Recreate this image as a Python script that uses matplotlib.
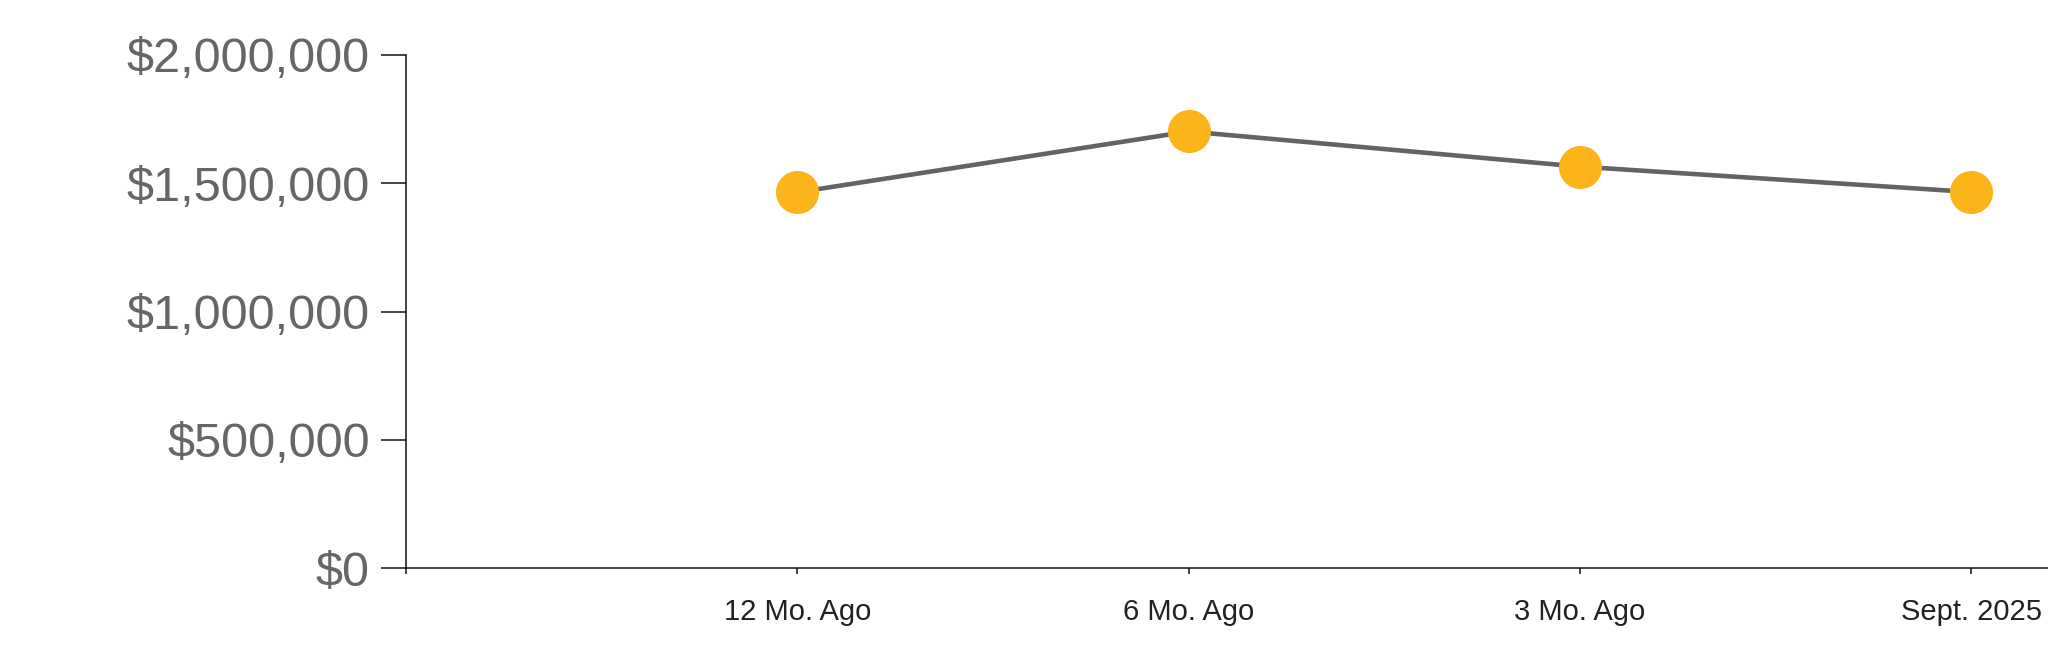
import matplotlib
matplotlib.use("Agg")
import matplotlib.pyplot as plt
from matplotlib.ticker import FuncFormatter

plt.rcParams["font.family"] = ["Liberation Sans", "DejaVu Sans"]

# data
periods = ["12 Mo. Ago", "6 Mo. Ago", "3 Mo. Ago", "Sept. 2025"]
values = [1465000, 1702000, 1565000, 1466000]
y_ticks = [0, 500000, 1000000, 1500000, 2000000]

LINE = "#636363"
DOT = "#FBB41A"

fig = plt.figure(figsize=(20.48, 6.63), dpi=100)
ax = fig.add_axes([406 / 2048, 1 - 568.3 / 663, 1 - 406 / 2048, (568.3 - 55) / 663])

x = list(range(1, len(periods) + 1))
ax.plot(x, values, color=LINE, lw=3.3, zorder=2, solid_capstyle="butt")
ax.plot(x, values, "o", color=DOT, ms=31, mec="none", zorder=3)

ax.set_xlim(0, 4.196)
ax.set_ylim(0, 2000000)
ax.set_yticks(y_ticks)
ax.yaxis.set_major_formatter(FuncFormatter(lambda v, _: f"${v:,.0f}"))
ax.set_xticks([0] + x)
ax.set_xticklabels([""] + periods)

for side in ("top", "right"):
    ax.spines[side].set_visible(False)
for side in ("left", "bottom"):
    ax.spines[side].set_linewidth(1.1)
    ax.spines[side].set_color("#111111")

ax.tick_params(axis="y", length=18, width=1.1, color="#111111", pad=8,
               labelsize=35, labelcolor="#666666")
ax.tick_params(axis="x", length=4.5, width=1.1, color="#111111", pad=17,
               labelsize=21, labelcolor="#222222")

fig.savefig("out.png", dpi=100)
